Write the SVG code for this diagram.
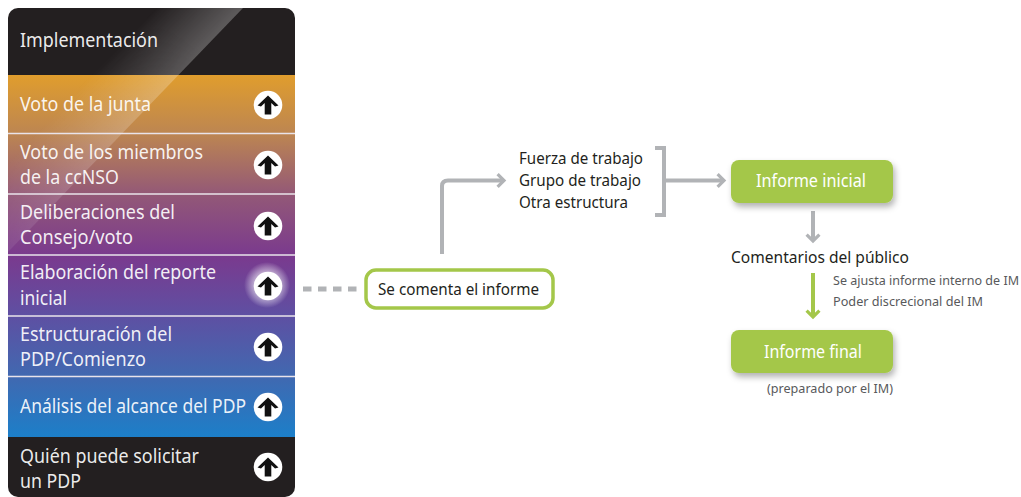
<svg xmlns="http://www.w3.org/2000/svg" width="1021" height="497" viewBox="0 0 1021 497">
<style>
text{font-family:"Noto Sans","Open Sans","Liberation Sans",sans-serif}
.m{fill:#fff;font-size:19.500px;fill-opacity:.92}
.d{fill:#231f20;font-size:16px}
.s{fill:#58595b;font-size:12.500px}
.w{fill:#fff;font-size:17.500px}
.c{fill:none;stroke:#b1b3b6;stroke-width:4}
.sep{stroke:#e9e3ea;stroke-width:1.500}
.b{fill:#a4c74a;filter:url(#sh)}
</style>
<defs>
<linearGradient id="g" gradientUnits="userSpaceOnUse" x1="0" y1="75" x2="0" y2="437">
<stop offset="0" stop-color="#e09d2d"/><stop offset=".16" stop-color="#bd8651"/><stop offset=".33" stop-color="#935877"/><stop offset=".5" stop-color="#7a3a8e"/><stop offset=".66" stop-color="#5f4fa2"/><stop offset=".83" stop-color="#4168b0"/><stop offset="1" stop-color="#1c7fc9"/>
</linearGradient>
<linearGradient id="gl" gradientUnits="userSpaceOnUse" x1="125" y1="40" x2="195" y2="108">
<stop offset="0" stop-color="#fff" stop-opacity="0"/><stop offset="1" stop-color="#fff" stop-opacity=".42"/>
</linearGradient>
<linearGradient id="fade" gradientUnits="userSpaceOnUse" x1="190" y1="40" x2="15" y2="250">
<stop offset="0" stop-color="#fff"/><stop offset=".55" stop-color="#fff" stop-opacity=".62"/><stop offset="1" stop-color="#fff" stop-opacity=".28"/>
</linearGradient>
<mask id="fm" maskUnits="userSpaceOnUse" x="0" y="0" width="300" height="300"><rect width="300" height="300" fill="url(#fade)"/></mask>
<radialGradient id="glow"><stop offset=".6" stop-color="#fff" stop-opacity=".5"/><stop offset="1" stop-color="#fff" stop-opacity="0"/></radialGradient>
<clipPath id="p"><rect x="8" y="8" width="287" height="489" rx="10"/></clipPath>
<filter id="sh" x="-15%" y="-30%" width="130%" height="170%"><feDropShadow dx="2" dy="4" stdDeviation="3" flood-color="#000" flood-opacity=".3"/></filter>
<marker id="ag" markerWidth="4" markerHeight="5" refX="2" refY="2.500" orient="auto" markerUnits="strokeWidth"><path d="M.9 .9L2.500 2.500L.9 4.100" fill="none" stroke="#b1b3b6" stroke-width=".8"/></marker>
<marker id="an" markerWidth="4" markerHeight="5" refX="2" refY="2.500" orient="auto" markerUnits="strokeWidth"><path d="M.9 .9L2.500 2.500L.9 4.100" fill="none" stroke="#a4c74a" stroke-width=".8"/></marker>
<symbol id="up" viewBox="-14.500 -14.500 29 29" overflow="visible"><circle r="14.300" fill="#fff"/><path d="M0-9.500L10.500 .5L7 1.500L3.300-2V9.500H-3.300V-2L-7 1.500L-10.500 .5Z" fill="#111"/></symbol>
</defs>
<rect width="1021" height="497" fill="#fff"/>
<g id="panel-background" clip-path="url(#p)">
<rect x="8" y="8" width="287" height="67" fill="#231f20"/>
<rect x="8" y="75" width="287" height="362" fill="url(#g)"/>
<rect x="8" y="437" width="287" height="60" fill="#231f20"/>
<path d="M125 8H243L8 252V110Z" fill="url(#gl)" mask="url(#fm)"/>
<path class="sep" d="M8 133.500H295M8 194H295M8 255H295M8 316H295M8 376.500H295"/>
</g>
<g id="node-implementacion"><text class="m" x="20" y="47" textLength="138" lengthAdjust="spacingAndGlyphs">Implementación</text></g>
<g id="node-voto-junta"><text class="m" x="20" y="111" textLength="131" lengthAdjust="spacingAndGlyphs">Voto de la junta</text><use href="#up" x="253.500" y="90.500" width="29" height="29"/></g>
<g id="node-voto-ccnso"><text class="m" x="20" y="159" textLength="183" lengthAdjust="spacingAndGlyphs">Voto de los miembros</text><text class="m" x="20" y="184" textLength="99" lengthAdjust="spacingAndGlyphs">de la ccNSO</text><use href="#up" x="253.500" y="150.500" width="29" height="29"/></g>
<g id="node-deliberaciones"><text class="m" x="20" y="219" textLength="155" lengthAdjust="spacingAndGlyphs">Deliberaciones del</text><text class="m" x="20" y="244" textLength="113" lengthAdjust="spacingAndGlyphs">Consejo/voto</text><use href="#up" x="253.500" y="211.500" width="29" height="29"/></g>
<g id="node-elaboracion"><text class="m" x="20" y="279" textLength="196" lengthAdjust="spacingAndGlyphs">Elaboración del reporte</text><text class="m" x="20" y="305" textLength="47" lengthAdjust="spacingAndGlyphs">inicial</text><circle cx="267" cy="285" r="23" fill="url(#glow)"/><use href="#up" x="253.500" y="271.500" width="29" height="29"/></g>
<g id="node-estructuracion"><text class="m" x="20" y="341" textLength="152" lengthAdjust="spacingAndGlyphs">Estructuración del</text><text class="m" x="20" y="366" textLength="126" lengthAdjust="spacingAndGlyphs">PDP/Comienzo</text><use href="#up" x="253.500" y="332.500" width="29" height="29"/></g>
<g id="node-analisis"><text class="m" x="20" y="413" textLength="226" lengthAdjust="spacingAndGlyphs">Análisis del alcance del PDP</text><use href="#up" x="253.500" y="392.500" width="29" height="29"/></g>
<g id="node-quien"><text class="m" x="20" y="463" textLength="179" lengthAdjust="spacingAndGlyphs">Quién puede solicitar</text><text class="m" x="20" y="488" textLength="61" lengthAdjust="spacingAndGlyphs">un PDP</text><use href="#up" x="253.500" y="452.500" width="29" height="29"/></g>
<g id="connectors">
<path d="M303 289H358" fill="none" stroke="#b1b3b6" stroke-width="5" stroke-dasharray="8.500 6.500"/>
<path class="c" d="M442 254V186Q442 180.500 448 180.500H502" marker-end="url(#ag)"/>
<path class="c" d="M655 148H664V215H655"/>
<path class="c" d="M664 180.500H722" marker-end="url(#ag)"/>
<path class="c" d="M813 211V239" marker-end="url(#ag)"/>
<path d="M813 273V315" fill="none" stroke="#a4c74a" stroke-width="4" marker-end="url(#an)"/>
</g>
<g id="node-se-comenta"><rect x="366" y="270" width="187" height="38" rx="10" fill="#fff" stroke="#a4c74a" stroke-width="3.500"/><text class="d" x="378" y="295" textLength="161" lengthAdjust="spacingAndGlyphs">Se comenta el informe</text></g>
<g id="node-estructuras"><text class="d" x="519" y="164" textLength="124" lengthAdjust="spacingAndGlyphs">Fuerza de trabajo</text><text class="d" x="519" y="186" textLength="122" lengthAdjust="spacingAndGlyphs">Grupo de trabajo</text><text class="d" x="519" y="208" textLength="109" lengthAdjust="spacingAndGlyphs">Otra estructura</text></g>
<g id="node-informe-inicial"><rect class="b" x="731" y="160" width="162" height="43" rx="8"/><text class="w" x="756" y="187" textLength="110" lengthAdjust="spacingAndGlyphs">Informe inicial</text></g>
<g id="node-comentarios"><text class="d" x="731" y="263" textLength="178" lengthAdjust="spacingAndGlyphs">Comentarios del público</text></g>
<g id="node-ajustes"><text class="s" x="833" y="285" textLength="186" lengthAdjust="spacingAndGlyphs">Se ajusta informe interno de IM</text><text class="s" x="833" y="306" textLength="150" lengthAdjust="spacingAndGlyphs">Poder discrecional del IM</text></g>
<g id="node-informe-final"><rect class="b" x="731" y="330" width="162" height="43" rx="8"/><text class="w" x="764" y="358" textLength="98" lengthAdjust="spacingAndGlyphs">Informe final</text><text class="s" x="767" y="393" textLength="126" lengthAdjust="spacingAndGlyphs">(preparado por el IM)</text></g>
</svg>
